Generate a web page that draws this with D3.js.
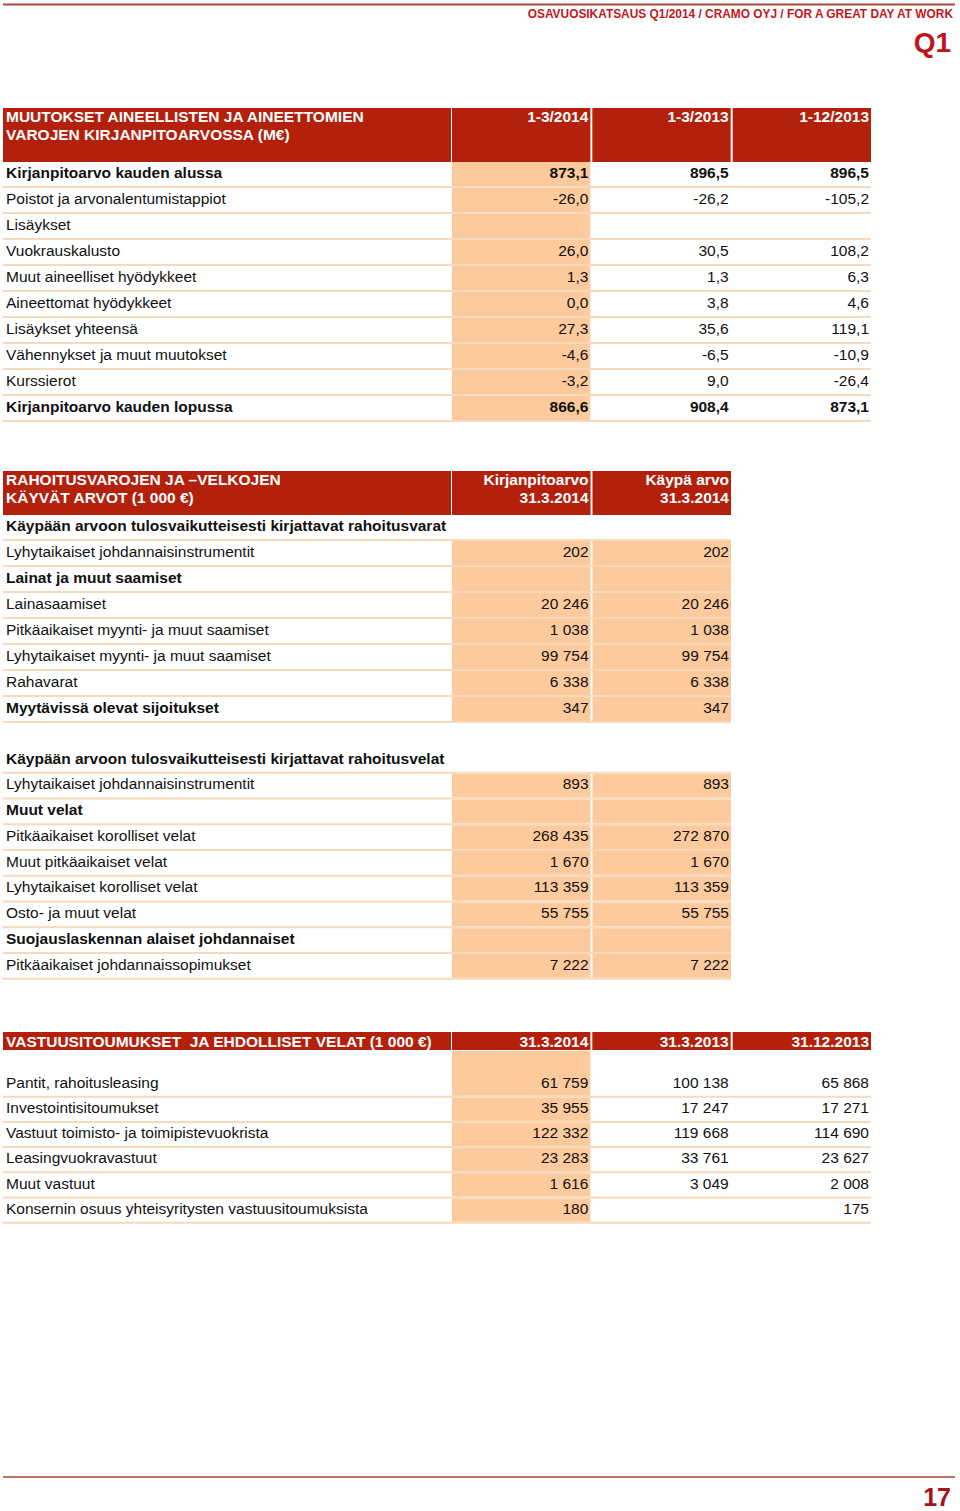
<!DOCTYPE html>
<html>
<head>
<meta charset="utf-8">
<script src="https://cdn.jsdelivr.net/npm/d3@7"></script>
<style>
  body { margin: 0; background: #fff; }
  svg text { font-family: "Liberation Sans", Arial, sans-serif; white-space: pre; }
  .narrow { font-family: "Liberation Sans Narrow", "Arial Narrow", "Liberation Sans", sans-serif; font-weight: bold; }
</style>
</head>
<body>
<div id="page"></div>
<script>
// --- taulukko 1: muutokset kirjanpitoarvossa (M€)
const t1Title = ["MUUTOKSET AINEELLISTEN JA AINEETTOMIEN", "VAROJEN KIRJANPITOARVOSSA (M€)"];
const t1Cols = ["1-3/2014", "1-3/2013", "1-12/2013"];
const t1Rows = ["Kirjanpitoarvo kauden alussa", "Poistot ja arvonalentumistappiot", "Lisäykset",
  "Vuokrauskalusto", "Muut aineelliset hyödykkeet", "Aineettomat hyödykkeet", "Lisäykset yhteensä",
  "Vähennykset ja muut muutokset", "Kurssierot", "Kirjanpitoarvo kauden lopussa"];
const t1Q2014 = [873.1, -26.0, null, 26.0, 1.3, 0.0, 27.3, -4.6, -3.2, 866.6];
const t1Q2013 = [896.5, -26.2, null, 30.5, 1.3, 3.8, 35.6, -6.5, 9.0, 908.4];
const t1FY2013 = [896.5, -105.2, null, 108.2, 6.3, 4.6, 119.1, -10.9, -26.4, 873.1];
const t1Bold = ["Kirjanpitoarvo kauden alussa", "Kirjanpitoarvo kauden lopussa"];

// --- taulukko 2: rahoitusvarojen ja -velkojen käyvät arvot (1 000 €)
const t2Title = ["RAHOITUSVAROJEN JA –VELKOJEN", "KÄYVÄT ARVOT (1 000 €)"];
const t2Cols = [["Kirjanpitoarvo", "31.3.2014"], ["Käypä arvo", "31.3.2014"]];
const t2aRows = ["Käypään arvoon tulosvaikutteisesti kirjattavat rahoitusvarat",
  "Lyhytaikaiset johdannaisinstrumentit", "Lainat ja muut saamiset", "Lainasaamiset",
  "Pitkäaikaiset myynti- ja muut saamiset", "Lyhytaikaiset myynti- ja muut saamiset",
  "Rahavarat", "Myytävissä olevat sijoitukset"];
const t2aBook = [null, 202, null, 20246, 1038, 99754, 6338, 347];
const t2aFair = [null, 202, null, 20246, 1038, 99754, 6338, 347];
const t2bRows = ["Käypään arvoon tulosvaikutteisesti kirjattavat rahoitusvelat",
  "Lyhytaikaiset johdannaisinstrumentit", "Muut velat", "Pitkäaikaiset korolliset velat",
  "Muut pitkäaikaiset velat", "Lyhytaikaiset korolliset velat", "Osto- ja muut velat",
  "Suojauslaskennan alaiset johdannaiset", "Pitkäaikaiset johdannaissopimukset"];
const t2bBook = [null, 893, null, 268435, 1670, 113359, 55755, null, 7222];
const t2bFair = [null, 893, null, 272870, 1670, 113359, 55755, null, 7222];
const t2Bold = ["Käypään arvoon tulosvaikutteisesti kirjattavat rahoitusvarat", "Lainat ja muut saamiset",
  "Myytävissä olevat sijoitukset", "Käypään arvoon tulosvaikutteisesti kirjattavat rahoitusvelat",
  "Muut velat", "Suojauslaskennan alaiset johdannaiset"];
const t2Sections = ["Käypään arvoon tulosvaikutteisesti kirjattavat rahoitusvarat",
  "Käypään arvoon tulosvaikutteisesti kirjattavat rahoitusvelat"];

// --- taulukko 3: vastuusitoumukset ja ehdolliset velat (1 000 €)
const t3Title = ["VASTUUSITOUMUKSET  JA EHDOLLISET VELAT (1 000 €)"];
const t3Cols = ["31.3.2014", "31.3.2013", "31.12.2013"];
const t3Rows = ["Pantit, rahoitusleasing", "Investointisitoumukset", "Vastuut toimisto- ja toimipistevuokrista",
  "Leasingvuokravastuut", "Muut vastuut", "Konsernin osuus yhteisyritysten vastuusitoumuksista"];
const t3Q2014 = [61759, 35955, 122332, 23283, 1616, 180];
const t3Q2013 = [100138, 17247, 119668, 33761, 3049, null];
const t3FY2013 = [65868, 17271, 114690, 23627, 2008, 175];

const RED = "#b3200c", PEACH = "#fcca9c", LINE = "#f7d9bb", INK = "#111";

const fi = d3.formatLocale({decimal: ",", thousands: " ", grouping: [3], currency: ["", " €"], minus: "-"});
const fmt1 = fi.format(".1f"), fmt0 = fi.format(",d");

const W = 960, H = 1511;
const svg = d3.select("#page").append("svg").attr("width", W).attr("height", H);

// ylä- ja alatunniste
svg.append("line").attr("x1", 3).attr("x2", 955).attr("y1", 4.5).attr("y2", 4.5)
  .attr("stroke", "#a9453b").attr("stroke-width", 2);
svg.append("text").attr("class", "narrow").attr("x", 953).attr("y", 18)
  .attr("text-anchor", "end").attr("font-size", 11.9).attr("fill", "#c4161c")
  .text("OSAVUOSIKATSAUS Q1/2014 / CRAMO OYJ / FOR A GREAT DAY AT WORK");
svg.append("text").attr("class", "narrow").attr("x", 951).attr("y", 52)
  .attr("text-anchor", "end").attr("font-size", 28).attr("fill", "#c0141b").text("Q1");
svg.append("line").attr("x1", 3).attr("x2", 955).attr("y1", 1477).attr("y2", 1477)
  .attr("stroke", "#a9453b").attr("stroke-width", 1.5);
svg.append("text").attr("class", "narrow").attr("x", 951).attr("y", 1506)
  .attr("text-anchor", "end").attr("font-size", 25).attr("fill", "#a8101a").text("17");

function drawTable(o) {
  const g = svg.append("g");
  const x = d3.scaleBand().domain(d3.range(o.nCols)).range([452, o.right]).paddingInner(0.014);
  const xr = i => x(i) + x.bandwidth() - 2;

  // otsikkorivi
  if (o.header) {
    const h = o.header;
    g.append("rect").attr("x", 3).attr("y", h.top).attr("width", 448).attr("height", h.height).attr("fill", RED);
    g.selectAll(".hcell").data(d3.range(o.nCols)).join("rect")
      .attr("x", i => x(i)).attr("y", h.top).attr("width", x.bandwidth()).attr("height", h.height).attr("fill", RED);
    h.title.forEach((t, k) => {
      g.append("text").attr("x", 6).attr("y", h.top + h.base + k * 18)
        .attr("font-size", 15.5).attr("font-weight", "bold").attr("fill", "#fff").text(t);
    });
    h.cols.forEach((c, i) => {
      (Array.isArray(c) ? c : [c]).forEach((t, k) => {
        g.append("text").attr("x", xr(i)).attr("y", h.top + h.base + k * 18).attr("text-anchor", "end")
          .attr("font-size", 15.5).attr("font-weight", "bold").attr("fill", "#fff").text(t);
      });
    });
  }

  const y = d3.scaleBand().domain(d3.range(o.rows.length)).range([o.top, o.top + o.rows.length * o.rowH]);

  // täyttösolut
  o.rows.forEach((r, j) => {
    if (o.sections && o.sections.includes(r)) return;
    o.fill.forEach(ci => {
      const y0 = (j === 0 && o.fillFrom != null) ? o.fillFrom : y(j) + 1;
      g.append("rect").attr("x", x(ci)).attr("y", y0).attr("width", x.bandwidth())
        .attr("height", y(j) + y.bandwidth() - 1 - y0).attr("fill", PEACH);
    });
  });

  // erotinviivat
  g.selectAll(".sep").data(o.rows).join("line")
    .attr("x1", 3).attr("x2", o.right)
    .attr("y1", (d, j) => y(j) + y.bandwidth()).attr("y2", (d, j) => y(j) + y.bandwidth())
    .attr("stroke", LINE).attr("stroke-width", 2);

  // tekstit
  g.selectAll(".lbl").data(o.rows).join("text")
    .attr("x", 6).attr("y", (d, j) => y(j) + y.bandwidth() / 2).attr("dy", "0.24em")
    .attr("font-size", 15.5).attr("fill", INK)
    .attr("font-weight", d => o.bold.includes(d) ? "bold" : "normal").text(d => d);

  o.values.forEach((col, ci) => {
    g.selectAll(".v" + ci).data(col).join("text")
      .attr("x", xr(ci)).attr("y", (d, j) => y(j) + y.bandwidth() / 2).attr("dy", "0.24em")
      .attr("text-anchor", "end").attr("font-size", 15.5).attr("fill", INK)
      .attr("font-weight", (d, j) => o.boldValues && o.bold.includes(o.rows[j]) ? "bold" : "normal")
      .text(d => d == null ? "" : o.fmt(d));
  });
}

drawTable({
  header: {top: 108, height: 54, base: 14, title: t1Title, cols: t1Cols},
  nCols: 3, right: 871, top: 161, rowH: 26, rows: t1Rows,
  values: [t1Q2014, t1Q2013, t1FY2013], fmt: fmt1, bold: t1Bold, boldValues: true, fill: [0]
});

drawTable({
  header: {top: 471, height: 44, base: 14, title: t2Title, cols: t2Cols},
  nCols: 2, right: 731, top: 514, rowH: 26, rows: t2aRows,
  values: [t2aBook, t2aFair], fmt: fmt0, bold: t2Bold, sections: t2Sections, fill: [0, 1]
});

drawTable({
  nCols: 2, right: 731, top: 747, rowH: 25.75, rows: t2bRows,
  values: [t2bBook, t2bFair], fmt: fmt0, bold: t2Bold, sections: t2Sections, fill: [0, 1]
});

drawTable({
  header: {top: 1032, height: 18, base: 14.5, title: t3Title, cols: t3Cols},
  nCols: 3, right: 871, top: 1071.5, rowH: 25.2, rows: t3Rows, fillFrom: 1051,
  values: [t3Q2014, t3Q2013, t3FY2013], fmt: fmt0, bold: [], fill: [0]
});
</script>
</body>
</html>
